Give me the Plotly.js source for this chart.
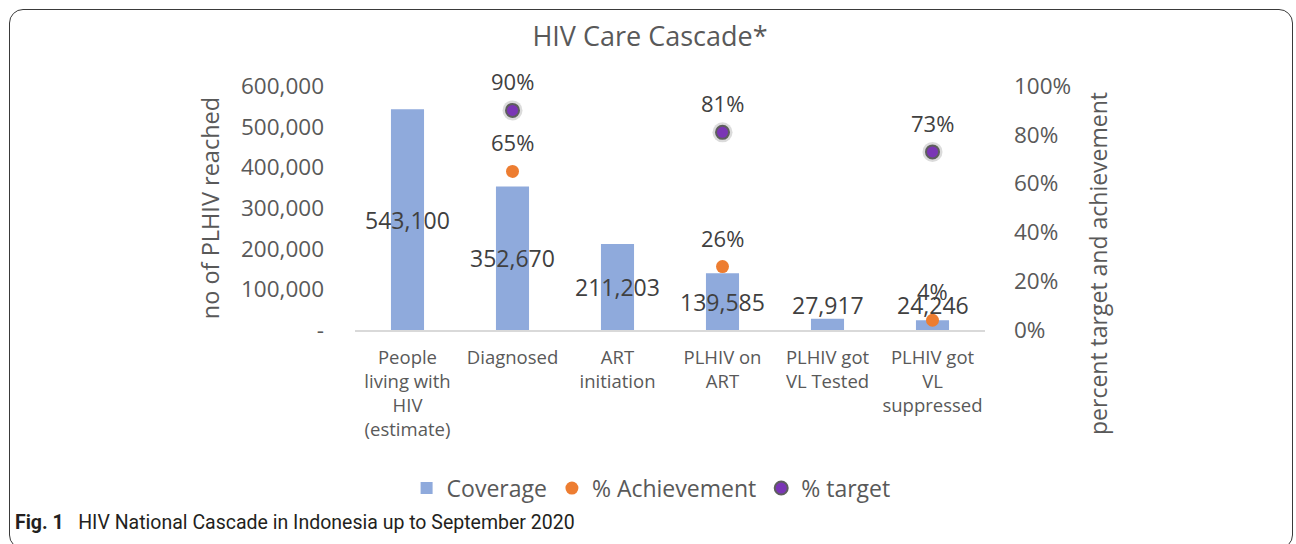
<!DOCTYPE html>
<html>
<head>
<meta charset="utf-8">
<script src="https://cdn.plot.ly/plotly-3.0.1.min.js"></script>
<style>
  html, body { margin: 0; padding: 0; background: #fff; }
  #wrap { position: relative; width: 1296px; height: 544px; overflow: hidden; }
  #chart { width: 1296px; height: 544px; }
  #frame { position: absolute; left: 9px; top: 9px; width: 1284px; height: 540px;
           border: 1.5px solid #3a3a3a; border-radius: 14px; pointer-events: none; box-sizing: border-box; }
</style>
</head>
<body>
<div id="wrap">
  <div id="chart"></div>
  <div id="frame"></div>
</div>
<script>
// ---- data ----
const categories = [
  "People<br>living with<br>HIV<br>(estimate)",
  "Diagnosed",
  "ART<br>initiation",
  "PLHIV on<br>ART",
  "PLHIV got<br>VL Tested",
  "PLHIV got<br>VL<br>suppressed"
];
const coverage = [543100, 352670, 211203, 139585, 27917, 24246];
const achievement = [null, 0.65, null, 0.26, null, 0.04];
const target = [null, 0.90, null, 0.81, null, 0.73];
const leftTickVals = [0, 100000, 200000, 300000, 400000, 500000, 600000];
const leftTickText = ["-", "100,000", "200,000", "300,000", "400,000", "500,000", "600,000"];
const rightTickVals = [0, 0.2, 0.4, 0.6, 0.8, 1.0];
const rightTickText = ["0%", "20%", "40%", "60%", "80%", "100%"];

const FONT = "'Open Sans', 'Noto Sans', sans-serif";
const GREY = "#595959";
const DARK = "#404040";

const traces = [
  {
    type: "bar", name: "Coverage", x: categories, y: coverage,
    marker: { color: "#8faadc" }, width: 0.315, hoverinfo: "none"
  },
  {
    type: "scatter", mode: "markers", name: "% target shadow", x: categories, y: target,
    yaxis: "y2", showlegend: false, hoverinfo: "none",
    marker: { size: 20, color: "rgba(110,110,110,0.25)", line: { width: 0 } }
  },
  {
    type: "scatter", mode: "markers", name: "% Achievement", x: categories, y: achievement,
    yaxis: "y2", hoverinfo: "none",
    marker: { size: 13, color: "#ed7d31", line: { width: 0 } }
  },
  {
    type: "scatter", mode: "markers", name: "% target", x: categories, y: target,
    yaxis: "y2", hoverinfo: "none",
    marker: { size: 13, color: "#7a35b5", line: { width: 2, color: "#5e5e5e" } }
  }
];

const annotations = [];
// bar value labels
coverage.forEach((v, i) => {
  annotations.push({
    x: categories[i], y: Math.max(v / 2, 62000), xref: "x", yref: "y",
    text: v.toLocaleString("en-US"), showarrow: false,
    font: { family: FONT, size: 23, color: DARK }
  });
});
// percent labels
[achievement, target].forEach(arr => {
  arr.forEach((v, i) => {
    if (v === null) return;
    annotations.push({
      x: categories[i], y: v, xref: "x", yref: "y2",
      text: Math.round(v * 100) + "%", showarrow: false, yshift: 29,
      font: { family: FONT, size: 22, color: DARK }
    });
  });
});
// right axis title (placed like the reference, lower than centre)
annotations.push({
  xref: "paper", yref: "paper", x: (1098 - 355) / 630, y: (330 - 264) / 244,
  xanchor: "center", yanchor: "middle", textangle: -90, showarrow: false,
  text: "percent target and achievement",
  font: { family: FONT, size: 23, color: GREY }
});
// caption
annotations.push({
  xref: "paper", yref: "paper", x: (13 - 355) / 630, y: (330 - 522) / 244, xanchor: "left", yanchor: "middle",
  text: "<b>Fig. 1</b>   HIV National Cascade in Indonesia up to September 2020",
  showarrow: false, align: "left",
  font: { family: "'Roboto', sans-serif", size: 19.5, color: "#231f20" }
});

const layout = {
  width: 1296, height: 544,
  margin: { l: 355, r: 311, t: 86, b: 214 },
  paper_bgcolor: "#fff", plot_bgcolor: "#fff",
  font: { family: FONT, color: GREY },
  title: {
    text: "HIV Care Cascade*", x: (650 - 355) / 630, xref: "paper", xanchor: "center",
    y: 1 - 37 / 544, yref: "container", yanchor: "middle",
    font: { family: FONT, size: 27, color: GREY }
  },
  showlegend: true,
  legend: {
    orientation: "h", x: 0.47, xanchor: "center", y: -0.648, yanchor: "middle",
    font: { family: FONT, size: 23, color: GREY }, itemclick: false, traceorder: "normal"
  },
  bargap: 0.685,
  xaxis: {
    type: "category", showgrid: false, zeroline: false,
    showline: true, linecolor: "#d9d9d9", linewidth: 1.5,
    ticks: "", ticklabelstandoff: 10,
    tickfont: { family: FONT, size: 18.5, color: GREY },
    fixedrange: true
  },
  yaxis: {
    range: [0, 600000], tickvals: leftTickVals, ticktext: leftTickText,
    showgrid: false, zeroline: false, showline: false, ticks: "",
    ticklabelstandoff: 30,
    tickfont: { family: FONT, size: 22.5, color: GREY },
    title: { text: "no of PLHIV reached", standoff: 14, font: { family: FONT, size: 23.5, color: GREY } },
    automargin: false, fixedrange: true
  },
  yaxis2: {
    overlaying: "y", side: "right", range: [0, 1],
    tickvals: rightTickVals, ticktext: rightTickText,
    showgrid: false, zeroline: false, showline: false, ticks: "",
    ticklabelstandoff: 28,
    tickfont: { family: FONT, size: 22.5, color: GREY },
    automargin: false, fixedrange: true
  },
  annotations: annotations
};

Plotly.newPlot("chart", traces, layout, { displayModeBar: false, staticPlot: true });
</script>
</body>
</html>
